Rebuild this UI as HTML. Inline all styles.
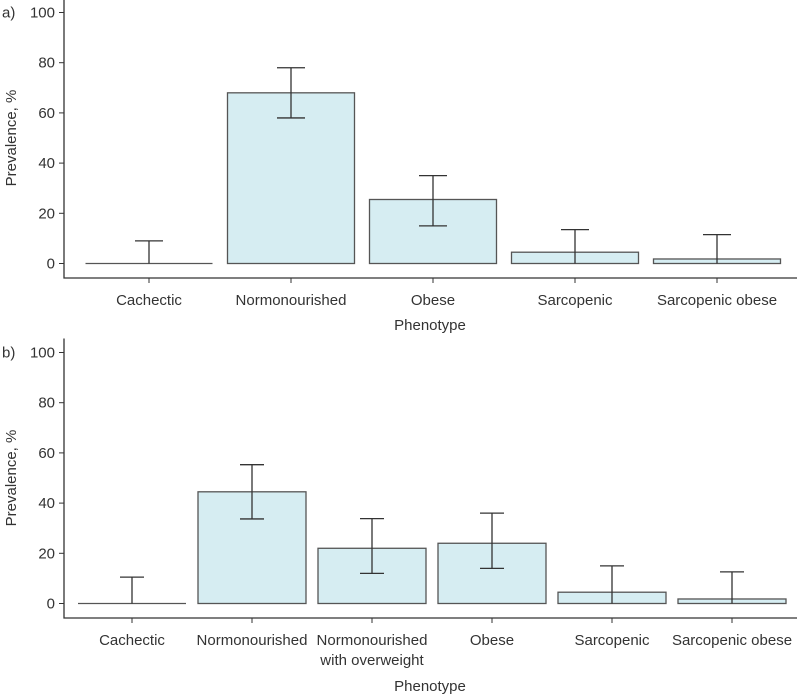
<!DOCTYPE html>
<html><head><meta charset="utf-8"><style>
body{margin:0;background:#fff}
svg{display:block;font-family:"Liberation Sans",sans-serif}
text{fill:#333}
</style></head><body>
<svg id="chart" width="797" height="696" xmlns="http://www.w3.org/2000/svg"></svg>
<script>
const catsA=["Cachectic","Normonourished","Obese","Sarcopenic","Sarcopenic obese"];
const valsA=[0,68,25.5,4.5,1.8];
const loA=[0,58,15,0,0];
const hiA=[9,78,35,13.5,11.5];
const catsB=["Cachectic","Normonourished","Normonourished|with overweight","Obese","Sarcopenic","Sarcopenic obese"];
const valsB=[0,44.5,22,24,4.5,1.8];
const loB=[0,33.7,12,14,0,0];
const hiB=[10.5,55.3,33.8,36,15,12.6];
const yTicks=[0,20,40,60,80,100];
const NS="http://www.w3.org/2000/svg";
const svg=document.getElementById('chart');
function mk(t,a,p){const e=document.createElementNS(NS,t);for(const k in a)e.setAttribute(k,a[k]);(p||svg).appendChild(e);return e;}
function panel(o){
 const g=mk('g',{});
 
 
 const y=v=>o.y0-(o.y0-o.y100)*v/100;
 const x=i=>o.x0+o.step*i;
 const ax=mk('path',{d:`M64 ${o.y100-14}V${o.axisY}H797`,stroke:'#333','stroke-width':1.3,fill:'none'},g);
 
 
 yTicks.forEach(t=>{
  mk('line',{x1:59,x2:64,y1:y(t),y2:y(t),stroke:'#333'},g);
  const tx=mk('text',{x:55,y:y(t)+5,'text-anchor':'end','font-size':15},g);tx.textContent=t;
  
  
 });
 const pl=mk('text',{x:2,y:o.y100+5,'font-size':15},g);pl.textContent=o.label;
 
 
 const yt=mk('text',{transform:`translate(16 ${y(50)}) rotate(-90)`,'text-anchor':'middle','font-size':15},g);yt.textContent='Prevalence, %';
 
 
 o.cats.forEach((c,i)=>{
  const cx=x(i),w=o.bw;
  let b;
  if(o.vals[i]>0){
   b=mk('rect',{x:cx-w/2,y:y(o.vals[i]),width:w,height:y(0)-y(o.vals[i]),fill:'#d6edf2',stroke:'#555','stroke-width':1.3},g);
  } else {
   b=mk('line',{x1:cx-w/2,x2:cx+w/2,y1:y(0),y2:y(0),stroke:'#555','stroke-width':1.3},g);
  }
  
  
  const e=mk('path',{d:`M${cx} ${y(o.lo[i])}V${y(o.hi[i])}M${cx-o.cap} ${y(o.hi[i])}H${cx+o.cap}`+(o.lo[i]>0?`M${cx-o.cap} ${y(o.lo[i])}H${cx+o.cap}`:''),stroke:'#333','stroke-width':1.3,fill:'none'},g);
  
  
  mk('line',{x1:cx,x2:cx,y1:o.axisY,y2:o.axisY+5,stroke:'#333'},g);
  const parts=c.split('|');
  parts.forEach((p,j)=>{
   const t=mk('text',{x:cx,y:o.axisY+27+j*20,'text-anchor':'middle','font-size':15},g);t.textContent=p;
   
   
  });
 });
 const xt=mk('text',{x:430,y:o.xTitleY,'text-anchor':'middle','font-size':15},g);xt.textContent='Phenotype';
 
 
}
panel({name:'panel-a',label:'a)',cats:catsA,vals:valsA,lo:loA,hi:hiA,y0:263.5,y100:12.5,axisY:278,x0:149,step:142,bw:127,cap:14,xTitleY:330});
panel({name:'panel-b',label:'b)',cats:catsB,vals:valsB,lo:loB,hi:hiB,y0:603.5,y100:352.5,axisY:618,x0:132,step:120,bw:108,cap:12,xTitleY:691});
</script>
</body></html>
